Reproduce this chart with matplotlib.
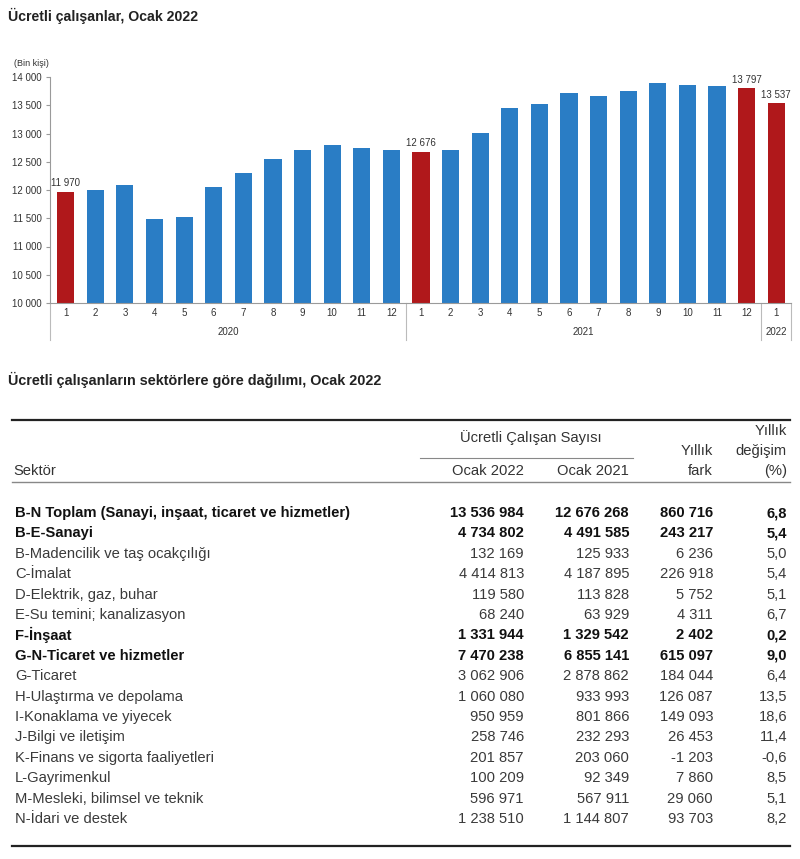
import numpy as np
import matplotlib
matplotlib.use("Agg")
import matplotlib.pyplot as plt

plt.rcParams['font.family'] = ['Liberation Sans', 'DejaVu Sans']

# ---- bar chart data (thousand persons) ----
months = ["1", "2", "3", "4", "5", "6", "7", "8", "9", "10", "11", "12",
          "1", "2", "3", "4", "5", "6", "7", "8", "9", "10", "11", "12", "1"]
values = [11970, 12005, 12080, 11480, 11530, 12060, 12300, 12550, 12700, 12800, 12750, 12710,
          12676, 12700, 13010, 13450, 13530, 13725, 13655, 13755, 13885, 13855, 13845, 13797, 13537]
highlight = [0, 12, 23, 24]
years = ["2020", "2021", "2022"]
year_spans = [(0, 11), (12, 23), (24, 24)]

# ---- table data ----
sectors = ["B-N Toplam (Sanayi, inşaat, ticaret ve hizmetler)", "B-E-Sanayi",
           "B-Madencilik ve taş ocakçılığı", "C-İmalat", "D-Elektrik, gaz, buhar",
           "E-Su temini; kanalizasyon", "F-İnşaat", "G-N-Ticaret ve hizmetler",
           "G-Ticaret", "H-Ulaştırma ve depolama", "I-Konaklama ve yiyecek",
           "J-Bilgi ve iletişim", "K-Finans ve sigorta faaliyetleri", "L-Gayrimenkul",
           "M-Mesleki, bilimsel ve teknik", "N-İdari ve destek"]
jan2022 = [13536984, 4734802, 132169, 4414813, 119580, 68240, 1331944, 7470238,
           3062906, 1060080, 950959, 258746, 201857, 100209, 596971, 1238510]
jan2021 = [12676268, 4491585, 125933, 4187895, 113828, 63929, 1329542, 6855141,
           2878862, 933993, 801866, 232293, 203060, 92349, 567911, 1144807]
diff = [860716, 243217, 6236, 226918, 5752, 4311, 2402, 615097,
        184044, 126087, 149093, 26453, -1203, 7860, 29060, 93703]
pct = ["6,8", "5,4", "5,0", "5,4", "5,1", "6,7", "0,2", "9,0",
       "6,4", "13,5", "18,6", "11,4", "-0,6", "8,5", "5,1", "8,2"]
bold_rows = [0, 1, 6, 7]


def fmt(n):
    s = f"{abs(n):,}".replace(",", " ")
    return "-" + s if n < 0 else s


W, H = 800, 859
fig = plt.figure(figsize=(W / 100, H / 100), dpi=100)


def fy(y):
    return 1 - y / H


def fx(x):
    return x / W


blue = "#2A7DC5"
red = "#B0181B"
grey = "#9A9A9A"

fig.text(fx(8), fy(16), "Ücretli çalışanlar, Ocak 2022", fontsize=10.2, fontweight="bold",
         va="center", ha="left", color="#222222")
fig.text(fx(14), fy(63), "(Bin kişi)", fontsize=6.5, va="center", ha="left", color="#333333")

ax = fig.add_axes([fx(50), fy(303), fx(791) - fx(50), fy(77) - fy(303)])
x = np.arange(len(values))
colors = [red if i in highlight else blue for i in x]
ax.bar(x, values, width=0.58, color=colors, zorder=2)
ax.set_ylim(10000, 14000)
ax.set_xlim(-0.53, len(values) - 0.5)
ax.set_yticks(range(10000, 14001, 500))
ax.set_yticklabels([fmt(v) for v in range(10000, 14001, 500)], fontsize=7, color="#333333")
ax.set_xticks([])
for s in ["top", "right"]:
    ax.spines[s].set_visible(False)
ax.spines["left"].set_color(grey)
ax.spines["bottom"].set_color(grey)
ax.spines["left"].set_bounds(10000, 14000)
ax.tick_params(axis="y", length=3, color=grey, pad=3)

for i in highlight:
    ax.text(x[i], values[i] + 60, fmt(values[i]), ha="center", va="bottom",
            fontsize=7, color="#333333")

# month and year labels below the axis
trans = ax.get_xaxis_transform()
for i, m in enumerate(months):
    ax.text(x[i], -0.045, m, transform=trans, ha="center", va="center", fontsize=7, color="#333333")
for yr, (a, b) in zip(years, year_spans):
    ax.text((a + b) / 2, -0.13, yr, transform=trans, ha="center", va="center", fontsize=7, color="#333333")
for sep in [-0.53, 11.5, 23.5, 24.5]:
    ax.plot([sep, sep], [0, -0.165], transform=trans, color="#BBBBBB", lw=0.8, clip_on=False)

# ---- table ----
fig.text(fx(8), fy(380), "Ücretli çalışanların sektörlere göre dağılımı, Ocak 2022",
         fontsize=10.4, fontweight="bold", va="center", ha="left", color="#222222")


def hline(y, x0, x1, lw, color):
    fig.add_artist(plt.Line2D([fx(x0), fx(x1)], [fy(y), fy(y)], lw=lw, color=color))


hline(420, 12, 790, 1.6, "#222222")
hline(458, 420, 633, 0.8, "#888888")
hline(482, 12, 790, 1.0, "#888888")
hline(846, 12, 790, 1.6, "#222222")

hc = "#333333"
hs = 10.6
fig.text(fx(531), fy(438), "Ücretli Çalışan Sayısı", ha="center", va="center", fontsize=hs, color=hc)
fig.text(fx(524), fy(471), "Ocak 2022", ha="right", va="center", fontsize=hs, color=hc)
fig.text(fx(629), fy(471), "Ocak 2021", ha="right", va="center", fontsize=hs, color=hc)
fig.text(fx(713), fy(451), "Yıllık", ha="right", va="center", fontsize=hs, color=hc)
fig.text(fx(713), fy(471), "fark", ha="right", va="center", fontsize=hs, color=hc)
fig.text(fx(787), fy(431), "Yıllık", ha="right", va="center", fontsize=hs, color=hc)
fig.text(fx(787), fy(451), "değişim", ha="right", va="center", fontsize=hs, color=hc)
fig.text(fx(787), fy(471), "(%)", ha="right", va="center", fontsize=hs, color=hc)
fig.text(fx(13), fy(471), "Sektör", ha="left", va="center", fontsize=hs, color=hc)

row0, step = 513, 20.4
for r, name in enumerate(sectors):
    y = fy(row0 + r * step)
    b = r in bold_rows
    kw = dict(va="center", fontsize=10.6, fontweight="bold" if b else "normal",
              color="#111111" if b else "#3A3A3A")
    fig.text(fx(15), y, name, ha="left", **kw)
    fig.text(fx(524), y, fmt(jan2022[r]), ha="right", **kw)
    fig.text(fx(629), y, fmt(jan2021[r]), ha="right", **kw)
    fig.text(fx(713), y, fmt(diff[r]), ha="right", **kw)
    fig.text(fx(787), y, pct[r], ha="right", **kw)

fig.savefig("out.png", dpi=100, facecolor="white")
